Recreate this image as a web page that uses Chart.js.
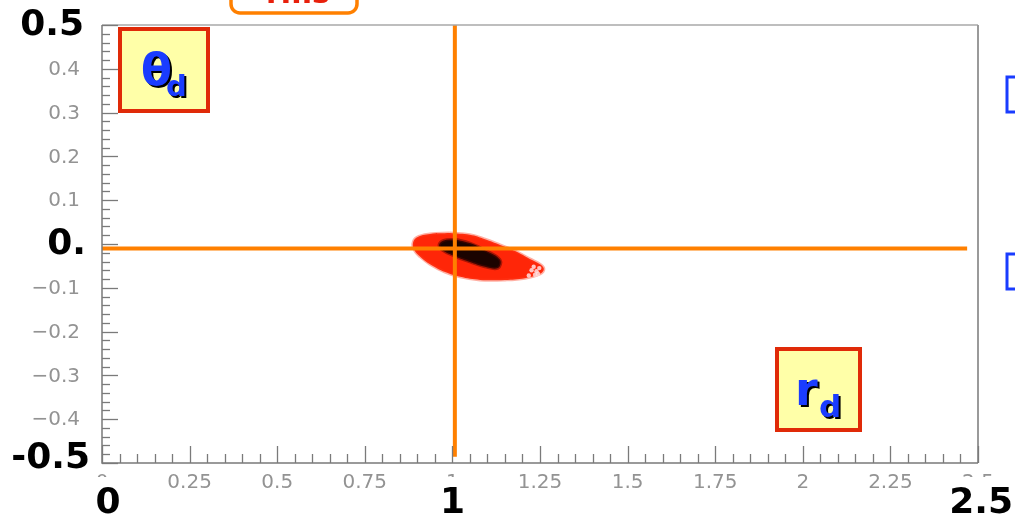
<!DOCTYPE html>
<html>
<head>
<meta charset="utf-8">
<script src="https://cdn.jsdelivr.net/npm/chart.js@4/dist/chart.umd.min.js"></script>
<style>
  html, body { margin: 0; padding: 0; background: #ffffff; }
  #wrap { width: 1015px; height: 521px; position: relative; }
</style>
</head>
<body>
<div id="wrap"><canvas id="c" width="1015" height="521"></canvas></div>
<script>
// Axis ticks and labels
const xMajorTicks = [0, 0.25, 0.5, 0.75, 1, 1.25, 1.5, 1.75, 2, 2.25, 2.5];
const xTickLabels = ['0', '0.25', '0.5', '0.75', '1', '1.25', '1.5', '1.75', '2', '2.25', '2.5'];
const yMajorTicks = [0.5, 0.4, 0.3, 0.2, 0.1, 0, -0.1, -0.2, -0.3, -0.4, -0.5];
const yTickLabels = ['0.5', '0.4', '0.3', '0.2', '0.1', '0', '\u22120.1', '\u22120.2', '\u22120.3', '\u22120.4', '\u22120.5'];
const xMinorStep = 0.05;
const yMinorStep = 0.02;

// Large overlay labels at the axis ends and the nominal point
const xBoldTicks = [0, 1, 2.5];
const xBoldLabels = ['0', '1', '2.5'];
const yBoldTicks = [0.5, 0, -0.5];
const yBoldLabels = ['0.5', '0.', '-0.5'];

// Reference lines through the nominal working point
const hLineR = [0, 2.469];
const hLineTheta = [-0.01, -0.01];
const vLineR = [1.007, 1.007];
const vLineTheta = [0.5, -0.486];

// Outline of the (r_d, theta_d) distribution
const cloudR = [0.993, 1.050, 1.093, 1.136, 1.179, 1.221, 1.250, 1.261,
                1.250, 1.207, 1.150, 1.079, 1.022, 0.979, 0.936, 0.908, 0.893, 0.887,
                0.898, 0.936, 0.993];
const cloudTheta = [0.025, 0.021, 0.011, -0.002, -0.016, -0.034, -0.046, -0.057,
                    -0.068, -0.078, -0.082, -0.082, -0.075, -0.064, -0.046, -0.029, -0.016, 0.000,
                    0.015, 0.023, 0.025];

// High-density core of the distribution
const coreR = [1.007, 1.050, 1.093, 1.136, 1.130, 1.093, 1.050, 1.007, 0.970, 0.962, 0.975, 1.007];
const coreTheta = [0.011, 0.002, -0.014, -0.036, -0.055, -0.052, -0.041, -0.028, -0.013, -0.002, 0.008, 0.011];

// Sparse entries in the tail of the distribution
const tailR = [1.232, 1.240, 1.248, 1.236, 1.226, 1.244, 1.218];
const tailTheta = [-0.052, -0.062, -0.055, -0.070, -0.060, -0.068, -0.072];

const pts = (xs, ys) => xs.map((x, i) => ({ x: x, y: ys[i] }));

const ORANGE = '#ff8000';
const CLOUD_RED = 'rgb(255, 38, 8)';

// Frame, inward ticks, tick labels and the label boxes
const framePlugin = {
  id: 'frame',
  afterDatasetsDraw(chart) {
    const ctx = chart.ctx;
    const xs = chart.scales.x, ys = chart.scales.y;
    const a = chart.chartArea;
    ctx.save();
    // frame
    ctx.lineWidth = 1.5;
    ctx.strokeStyle = '#a8a8a8';
    ctx.beginPath(); ctx.moveTo(a.left, a.top); ctx.lineTo(a.right, a.top); ctx.stroke();
    ctx.lineWidth = 2;
    ctx.strokeStyle = '#9a9a9a';
    ctx.beginPath(); ctx.moveTo(a.right, a.top); ctx.lineTo(a.right, a.bottom); ctx.stroke();
    ctx.lineWidth = 1.5;
    ctx.strokeStyle = '#7a7a7a';
    ctx.beginPath();
    ctx.moveTo(a.left, a.top); ctx.lineTo(a.left, a.bottom); ctx.lineTo(a.right, a.bottom);
    ctx.stroke();

    // x ticks (pointing up from the bottom edge)
    ctx.strokeStyle = '#7a7a7a';
    ctx.lineWidth = 1.3;
    const nx = Math.round((xs.max - xs.min) / xMinorStep);
    for (let i = 0; i <= nx; i++) {
      const v = xs.min + i * xMinorStep;
      const px = Math.round(xs.getPixelForValue(v)) + 0.5;
      const major = i % 5 === 0;
      ctx.beginPath();
      ctx.moveTo(px, a.bottom);
      ctx.lineTo(px, a.bottom - (major ? 17 : 9));
      ctx.stroke();
    }
    // y ticks (pointing right from the left edge)
    const ny = Math.round((ys.max - ys.min) / yMinorStep);
    for (let i = 0; i <= ny; i++) {
      const v = ys.min + i * yMinorStep;
      const py = Math.round(ys.getPixelForValue(v)) + 0.5;
      const major = i % 5 === 0;
      ctx.beginPath();
      ctx.moveTo(a.left, py);
      ctx.lineTo(a.left + (major ? 16 : 8), py);
      ctx.stroke();
    }

    // grey tick labels
    ctx.fillStyle = '#939393';
    ctx.font = '20px "DejaVu Sans", sans-serif';
    ctx.textAlign = 'center';
    ctx.textBaseline = 'middle';
    xMajorTicks.forEach((v, i) => {
      ctx.fillText(xTickLabels[i], xs.getPixelForValue(v), a.bottom + 20);
    });
    ctx.textAlign = 'right';
    yMajorTicks.forEach((v, i) => {
      ctx.fillText(yTickLabels[i], a.left - 22, ys.getPixelForValue(v) + 1);
    });

    // large black labels on white patches
    ctx.font = 'bold 36px "DejaVu Sans", sans-serif';
    ctx.textBaseline = 'middle';
    ctx.textAlign = 'center';
    xBoldTicks.forEach((v, i) => {
      const t = xBoldLabels[i];
      const w = ctx.measureText(t).width;
      let cx = xs.getPixelForValue(v);
      cx = Math.max(cx, a.left + 6);
      cx = Math.min(cx + (v === xs.max ? 6 : 0), chart.width - 2 - w / 2);
      ctx.fillStyle = '#ffffff';
      ctx.fillRect(cx - w / 2 - 4, a.bottom + 14, w + 8, 44);
      ctx.fillStyle = '#000000';
      ctx.fillText(t, cx, a.bottom + 41);
    });
    ctx.textAlign = 'right';
    yBoldTicks.forEach((v, i) => {
      const t = yBoldLabels[i];
      const w = ctx.measureText(t).width;
      let cy = ys.getPixelForValue(v);
      cy = Math.min(Math.max(cy, 24), a.bottom - 5);
      const rx = t === '0.5' ? 84 : (t === '0.' ? 86 : 90);
      ctx.fillStyle = '#ffffff';
      ctx.fillRect(rx - w - 3, cy - 17, w + 6, 34);
      ctx.fillStyle = '#000000';
      ctx.fillText(t, rx, cy + 1);
    });

    // label boxes
    const box = (x, y, w, h) => {
      ctx.fillStyle = '#ffffa8';
      ctx.fillRect(x, y, w, h);
      ctx.lineWidth = 4;
      ctx.strokeStyle = '#e02a08';
      ctx.strokeRect(x, y, w, h);
    };
    const shadowText = (t, x, y, font) => {
      ctx.font = font;
      ctx.textAlign = 'left';
      ctx.textBaseline = 'alphabetic';
      ctx.fillStyle = '#000000';
      ctx.fillText(t, x + 2, y + 2);
      ctx.fillStyle = '#1a3cff';
      ctx.fillText(t, x, y);
    };
    box(120, 29, 88, 82);
    shadowText('\u03b8', 141, 85, 'bold 45px "DejaVu Sans", sans-serif');
    shadowText('d', 166, 96, 'bold 29px "DejaVu Sans", sans-serif');
    box(777, 349, 83, 81);
    shadowText('r', 795, 405, 'bold 46px "DejaVu Sans", sans-serif');
    shadowText('d', 819, 417, 'bold 31px "DejaVu Sans", sans-serif');

    // panel title box, cut by the top edge
    ctx.lineWidth = 3.5;
    ctx.strokeStyle = '#ff8000';
    ctx.beginPath();
    ctx.roundRect(231, -24, 126, 37, 9);
    ctx.stroke();
    ctx.fillStyle = '#e8200c';
    ctx.font = 'bold 30px "DejaVu Sans", sans-serif';
    ctx.textAlign = 'center';
    ctx.textBaseline = 'alphabetic';
    ctx.fillText('rms', 298, 3);

    // neighbouring panel edges at the right border
    ctx.strokeStyle = '#1a3cff';
    ctx.lineWidth = 3;
    ctx.strokeRect(1007, 77, 30, 35);
    ctx.strokeRect(1007, 254, 30, 35);
    ctx.restore();
  }
};

new Chart(document.getElementById('c'), {
  type: 'scatter',
  data: {
    datasets: [
      {
        data: pts(hLineR, hLineTheta),
        showLine: true, borderColor: ORANGE, borderWidth: 4, pointRadius: 0, order: 0
      },
      {
        data: pts(vLineR, vLineTheta),
        showLine: true, borderColor: ORANGE, borderWidth: 4, pointRadius: 0, order: 0
      },
      {
        data: pts(coreR, coreTheta),
        showLine: true, tension: 0.4, fill: 'shape',
        backgroundColor: 'rgba(8, 0, 0, 0.92)', borderColor: 'rgba(90, 5, 0, 0.5)',
        borderWidth: 3, pointRadius: 0, order: 1
      },
      {
        data: pts(tailR, tailTheta),
        showLine: false, pointRadius: 2.2, pointBorderWidth: 0,
        pointBackgroundColor: 'rgba(255, 225, 225, 0.85)', order: 1
      },
      {
        data: pts(cloudR, cloudTheta),
        showLine: true, tension: 0.4, fill: 'shape',
        backgroundColor: CLOUD_RED, borderColor: 'rgba(255, 60, 30, 0.4)',
        borderWidth: 3, pointRadius: 0, order: 2
      }
    ]
  },
  options: {
    responsive: false,
    animation: false,
    devicePixelRatio: 1,
    layout: { padding: { left: 102, top: 25, right: 37, bottom: 58 } },
    scales: {
      x: { type: 'linear', min: 0, max: 2.5, display: false },
      y: { type: 'linear', min: -0.5, max: 0.5, display: false }
    },
    plugins: { legend: { display: false }, tooltip: { enabled: false } }
  },
  plugins: [framePlugin]
});
</script>
</body>
</html>
